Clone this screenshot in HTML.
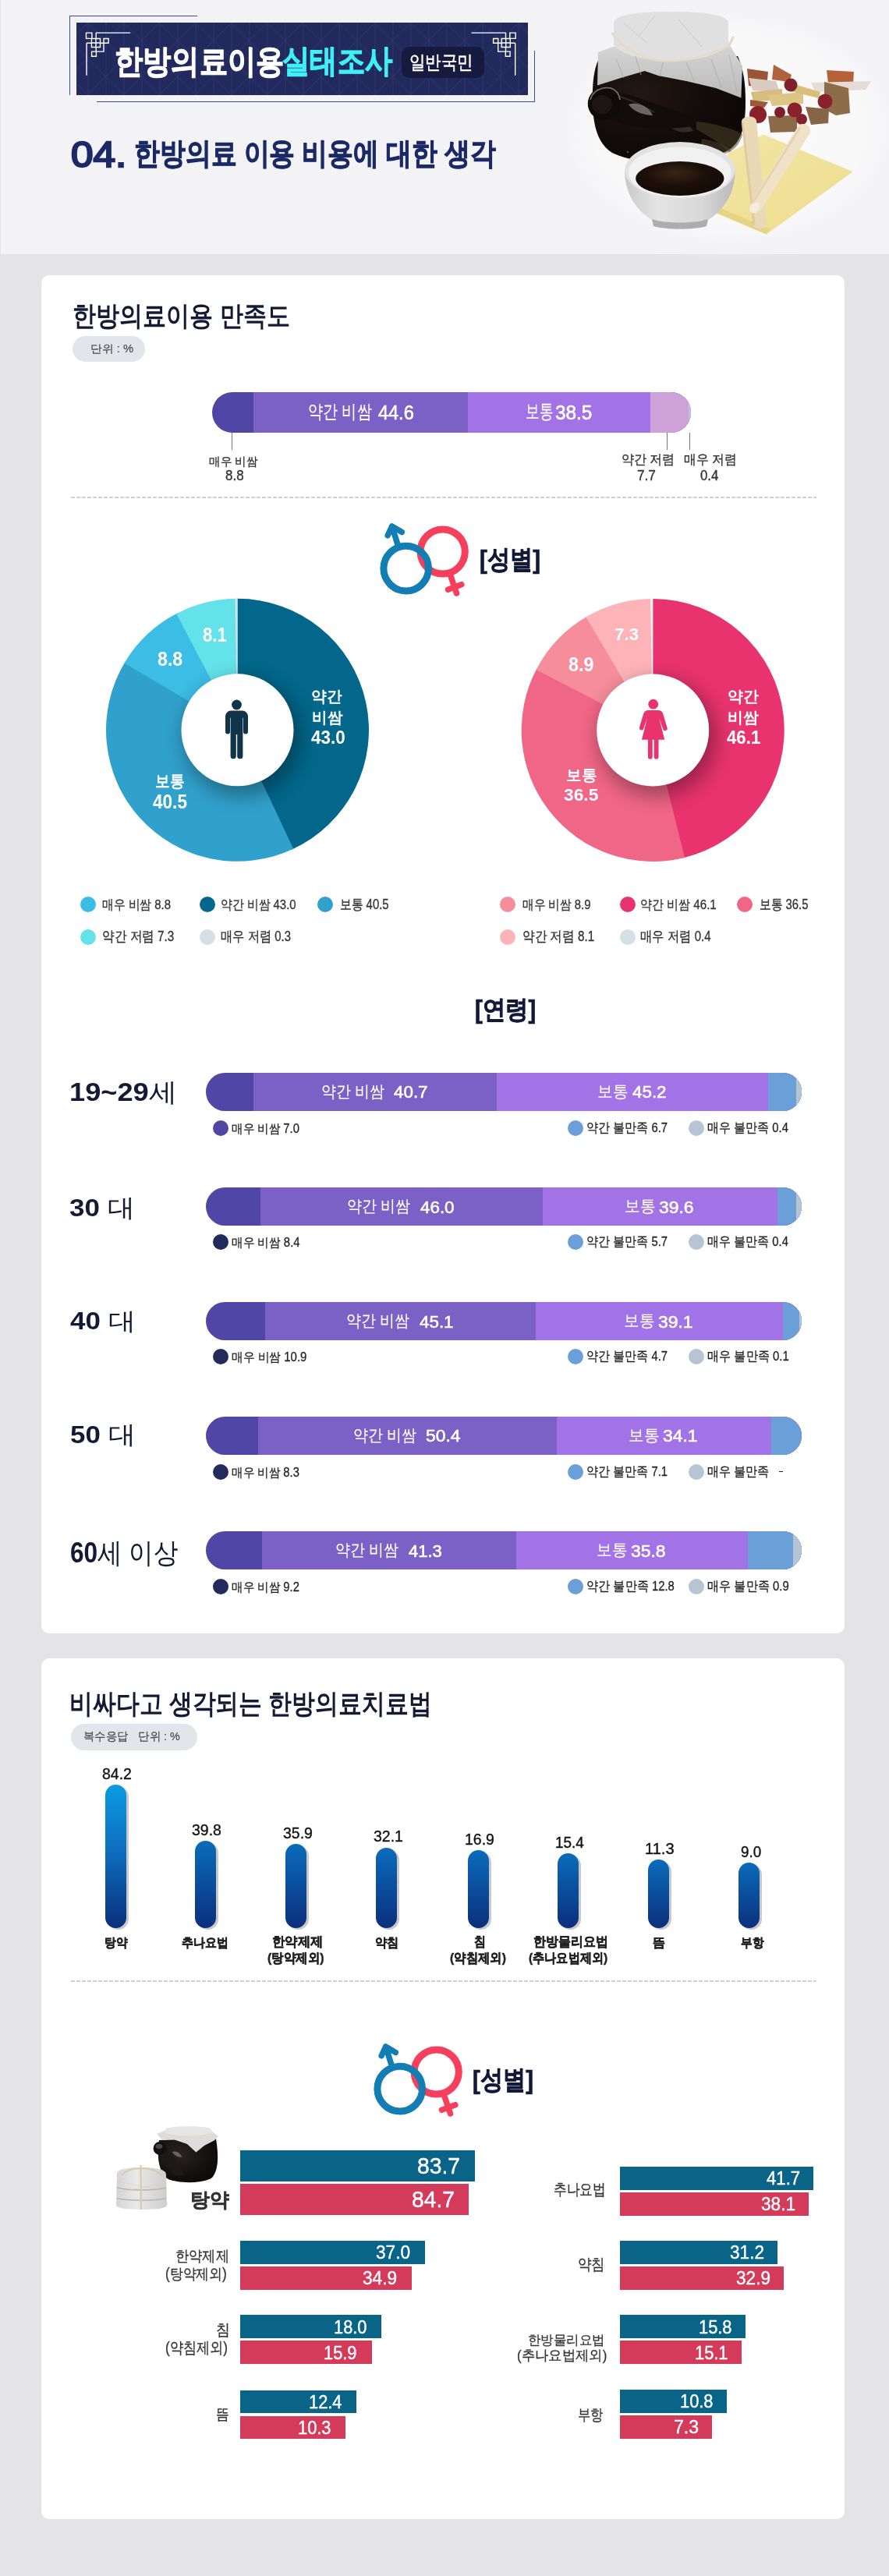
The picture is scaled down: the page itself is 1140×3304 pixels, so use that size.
<!DOCTYPE html><html><head><meta charset="utf-8"><style>
html,body{margin:0;padding:0;}
body{width:1140px;height:3304px;position:relative;overflow:hidden;background:#e4e4e7;font-family:"Liberation Sans",sans-serif;}
</style></head><body>
<div style="position:absolute;left:1px;top:0;width:1139px;height:326px;background:#f3f3f6"></div><div style="position:absolute;left:53px;top:353px;width:1030px;height:1742px;background:#fff;border-radius:10px"></div><div style="position:absolute;left:53px;top:2127px;width:1030px;height:1104px;background:#fff;border-radius:10px"></div><div style="position:absolute;left:89.00px;top:20.00px;width:164.00px;height:1.20px;background:#3d4d8f;"></div><div style="position:absolute;left:88.50px;top:20.00px;width:1.20px;height:101.50px;background:#3d4d8f;"></div><div style="position:absolute;left:124.00px;top:129.50px;width:562.00px;height:1.20px;background:#3d4d8f;"></div><div style="position:absolute;left:684.80px;top:64.50px;width:1.20px;height:66.20px;background:#3d4d8f;"></div><svg style="position:absolute;left:97.5px;top:28.7px" width="579.5" height="93" viewBox="0 0 579.5 93">
<defs><pattern id="lat" x="37.5" y="23.3" width="46" height="46" patternUnits="userSpaceOnUse">
<path d="M0.5 0V46M23.5 0V46M0 0L46 46M46 0L0 46" stroke="#333d75" stroke-width="1" fill="none"/></pattern></defs>
<rect width="579.5" height="93" fill="#222a5d"/><rect width="579.5" height="93" fill="url(#lat)" opacity="0.7"/>
</svg><svg style="position:absolute;left:0;top:0;overflow:visible" width="1" height="1"><g transform="translate(-0.29999999999999716,0)"><path d="M123.2 42.1H167.5 M123.5 42.1V49.5 M110.8 42.1H118.2V49.4H110.8Z M111.3 55.2V96.7 M111.3 55.2H117.7 M117.7 49.5H128.8V60.5H117.7Z M123.3 49.5V60.5 M117.7 55H128.8 M133.3 49.5H139.4V55.2H133.3Z M128.8 55.2H133.3V66.1H123.5 M117.9 66.1H123.7V72.2H117.9Z M123.5 60.5V66.1" stroke="#fff" stroke-width="1.4" fill="none"/></g></svg><svg style="position:absolute;left:0;top:0;overflow:visible" width="1" height="1"><g transform="translate(772.0,0) scale(-1,1)"><path d="M123.2 42.1H167.5 M123.5 42.1V49.5 M110.8 42.1H118.2V49.4H110.8Z M111.3 55.2V96.7 M111.3 55.2H117.7 M117.7 49.5H128.8V60.5H117.7Z M123.3 49.5V60.5 M117.7 55H128.8 M133.3 49.5H139.4V55.2H133.3Z M128.8 55.2H133.3V66.1H123.5 M117.9 66.1H123.7V72.2H117.9Z M123.5 60.5V66.1" stroke="#fff" stroke-width="1.4" fill="none"/></g></svg><div style="position:absolute;left:515px;top:60.3px;width:106.4px;height:39.5px;background:#161a3c;border-radius:10px"></div><svg style="position:absolute;left:0;top:0;overflow:visible" width="1" height="1">
<defs>
<radialGradient id="potg" cx="0.3" cy="0.35" r="0.8"><stop offset="0" stop-color="#231815"/><stop offset="0.55" stop-color="#120c0a"/><stop offset="1" stop-color="#0b0807"/></radialGradient>
<linearGradient id="papg" x1="0" y1="0" x2="0" y2="1"><stop offset="0" stop-color="#d6d6d6"/><stop offset="1" stop-color="#bababa"/></linearGradient>
<linearGradient id="bowlg" x1="0" y1="0" x2="1" y2="0"><stop offset="0" stop-color="#c9c9c9"/><stop offset="0.3" stop-color="#e4e4e4"/><stop offset="0.7" stop-color="#d8d8d8"/><stop offset="1" stop-color="#b9b9b9"/></linearGradient>
<radialGradient id="liqg" cx="0.45" cy="0.35" r="0.7"><stop offset="0" stop-color="#3a2414"/><stop offset="0.5" stop-color="#1c0f09"/><stop offset="1" stop-color="#120906"/></radialGradient>
<linearGradient id="clothg" x1="0" y1="0" x2="1" y2="1"><stop offset="0" stop-color="#f3e6a6"/><stop offset="1" stop-color="#eedc8c"/></linearGradient>
</defs>
<radialGradient id="glow" cx="0.5" cy="0.5" r="0.5"><stop offset="0" stop-color="#fbfbfb"/><stop offset="0.7" stop-color="#f8f8f9"/><stop offset="1" stop-color="#f3f3f6" stop-opacity="0"/></radialGradient>
<ellipse cx="935" cy="165" rx="250" ry="175" fill="url(#glow)"/>
<!-- herbs -->
<g>
<path d="M958 88L985 92L983 113L960 110Z" fill="#9c5436"/>
<path d="M992 83L1015 96L1012 105L990 102Z" fill="#b0613d"/>
<path d="M1060 90L1095 92L1094 108L1062 107Z" fill="#b5623b"/>
<path d="M1040 106L1117 104L1110 115L1045 118Z" fill="#e6dcd6"/>
<path d="M960 100L995 104L1000 118L965 116Z" fill="#d9cbc3"/>
<path d="M963 118L1003 114L1003 128L966 130Z" fill="#d6bd7c"/>
<path d="M985 122L1030 118L1030 133L990 136Z" fill="#dcc585"/>
<path d="M1005 104L1052 118L1050 126L1010 116Z" fill="#d8bf7a"/>
<path d="M1057 105L1088 113L1090 145L1072 148L1057 140Z" fill="#8d6c4a"/>
<path d="M1033 137L1063 140L1062 158L1040 160Z" fill="#856546"/>
<path d="M985 149L1022 148L1022 169L988 170Z" fill="#8a6a48"/>
<path d="M962 128L985 131L980 138L962 136Z" fill="#9a5a3a"/>
<circle cx="1014" cy="109" r="8.5" fill="#80202a"/>
<circle cx="1058" cy="130" r="9.5" fill="#86222b"/>
<circle cx="972" cy="147" r="11" fill="#8a2029"/>
<circle cx="1019" cy="141" r="9.5" fill="#8a222c"/>
<circle cx="1000" cy="144" r="7" fill="#7e1e28"/>
<circle cx="1028" cy="153" r="7" fill="#84222b"/>
</g>
<!-- pot body -->
<path d="M770 72C762 84 759 105 760 135C761 165 768 185 785 196C805 206 830 207 850 207C880 207 915 204 935 192C952 180 956 160 956 130C956 105 953 88 946 72Z" fill="url(#potg)"/>
<path d="M893 156C915 158 940 165 952 172C950 182 944 190 935 195C925 185 905 172 893 166Z" fill="#4e3f28" opacity="0.55"/>
<path d="M900 178C915 180 930 186 938 194C925 200 910 202 898 200Z" fill="#5a4a30" opacity="0.45"/>
<path d="M851 152C865 150 882 156 889 168C875 172 858 168 851 152Z" fill="#6c6664" opacity="0.35"/>
<!-- spout -->
<path d="M785 118C805 118 830 130 888 150L889 162C850 168 805 165 780 152Z" fill="#120d0b"/>
<path d="M794.5 124C810 128 825 136 839 144" stroke="#3a3432" stroke-width="2" fill="none" opacity="0.7"/>
<ellipse cx="774.7" cy="133" rx="21" ry="21" fill="#0f0b09"/>
<path d="M757 128C760 116 772 111 783 113C790 115 794 121 795 128" stroke="#8e8a88" stroke-width="1.6" fill="none" opacity="0.85"/>
<ellipse cx="772" cy="134" rx="13" ry="12" fill="#1c1614"/>
<path d="M806 134C816 130 832 136 837 148C826 148 812 143 806 134Z" fill="#8a8482" opacity="0.75"/>
<circle cx="805" cy="195" r="1.2" fill="#555"/>
<!-- paper drape -->
<path d="M786 60L767 67L766 109.5L796 100L826.7 91L844 97L880 104L918 113L950.4 125.6L952 84.7L934 55Z" fill="url(#papg)"/>
<path d="M787 30C787 18 820 15 860 15C900 15 934 18 934 30L934 58C920 72 890 78 860 78C830 78 800 72 787 58Z" fill="#e0e0e0"/>
<path d="M790 75L800 100M815 72L822 96M850 80L846 98M880 80L890 104M912 76L925 112M935 70L945 118" stroke="#a9a9a9" stroke-width="1.2" fill="none" opacity="0.6"/>
<path d="M800 30L830 55M870 25L900 60M840 20L820 45" stroke="#c9c9c9" stroke-width="1.2" fill="none" opacity="0.6"/>
<path d="M784.6 42C800 65 830 78 856 78C890 78 925 65 935.5 57L940.5 47" stroke="#e5dcc8" stroke-width="3.2" fill="none"/>
<!-- cloth -->
<path d="M979 172.5L1093.6 220.3L982.7 300.6L915.8 272L933 197Z" fill="url(#clothg)"/>
<path d="M915.8 272L982.7 300.6L988 294L922 266Z" fill="#e3d07e" opacity="0.8"/>
<!-- sticks -->
<path d="M951 156C951 148 969 147 970 155L983 286C983 295 966 296 966 288Z" fill="#ead9b6"/>
<path d="M952 157L967 289" stroke="#d5c197" stroke-width="3" fill="none" opacity="0.6"/>
<path d="M1024 161C1030 156 1041 161 1039 170L976 269C971 276 959 272 961 264Z" fill="#efe2c6"/>
<path d="M1026 164L964 262" stroke="#dcc9a4" stroke-width="2.5" fill="none" opacity="0.6"/>
<ellipse cx="967.5" cy="266.5" rx="7.5" ry="5.5" fill="#f6ede0" transform="rotate(-57 967.5 266.5)"/>
<!-- bowl -->
<path d="M801 218C801 248 816 270 836 282C852 288 892 288 908 282C928 270 942.5 248 942.5 218Z" fill="url(#bowlg)"/>
<path d="M836 281C852 287 892 287 908 281L906 290C890 295 854 295 838 290Z" fill="#adadad"/>
<ellipse cx="871.8" cy="218.4" rx="70.7" ry="36.5" fill="#e2e2e2"/>
<ellipse cx="871.8" cy="221" rx="66" ry="32.5" fill="#f1f1f1"/>
<ellipse cx="871.8" cy="229" rx="56.6" ry="22" fill="url(#liqg)"/>
</svg>
<div style="position:absolute;left:93.4px;top:431.3px;width:92.8px;height:33.1px;background:#e2e6ea;border-radius:17px"></div><div style="position:absolute;left:271.6px;top:503px;width:614.4px;height:52px;border-radius:26px;overflow:hidden;"><div style="position:absolute;left:0.00px;top:0;width:614.40px;height:100%;background:#5046a6"></div><div style="position:absolute;left:53.90px;top:0;width:560.50px;height:100%;background:#7b61c6"></div><div style="position:absolute;left:328.40px;top:0;width:286.00px;height:100%;background:#a273e6"></div><div style="position:absolute;left:562.40px;top:0;width:52.00px;height:100%;background:#cea2d9"></div><div style="position:absolute;left:611.40px;top:0;width:3.00px;height:100%;background:#b6c9d6"></div></div><div style="position:absolute;left:297.00px;top:555.00px;width:1.00px;height:22.00px;background:#777;"></div><div style="position:absolute;left:855.00px;top:555.00px;width:1.00px;height:22.00px;background:#777;"></div><div style="position:absolute;left:883.90px;top:555.00px;width:1.00px;height:22.00px;background:#777;"></div><div style="position:absolute;left:91px;top:637px;width:956px;height:2px;background:repeating-linear-gradient(90deg,#d0d0d0 0 5px,transparent 5px 7px)"></div><svg style="position:absolute;left:470px;top:655px" width="150" height="125" viewBox="470 655 150 125">
<g fill="none" stroke-linecap="round" stroke-linejoin="round">
<circle cx="567.7" cy="707.5" r="28.6" stroke="#f53f5c" stroke-width="9"/>
<path d="M577.5 737.5L585.5 761M574.5 756.2L591.8 749.7" stroke="#f53f5c" stroke-width="7.5"/>
<circle cx="520.7" cy="729.1" r="28.8" stroke="#137eb3" stroke-width="9"/>
<path d="M510.5 700L502.6 675M515.3 682.5L502.6 675L497.2 686.8" stroke="#137eb3" stroke-width="7.5"/>
</g></svg><svg style="position:absolute;left:0;top:0;overflow:visible" width="1" height="1">
<defs><filter id="shm" x="-50%" y="-50%" width="200%" height="200%"><feGaussianBlur stdDeviation="12"/></filter>
<clipPath id="clm"><circle cx="304.5" cy="936.3" r="168.5"/></clipPath></defs>
<path d="M304.5 936.3L304.50 767.80A168.5 168.5 0 0 1 374.11 1089.75Z" fill="#02678b"/><path d="M304.5 936.3L376.24 1088.76A168.5 168.5 0 0 1 160.68 848.51Z" fill="#30a1cc"/><path d="M304.5 936.3L159.46 850.53A168.5 168.5 0 0 1 228.21 786.06Z" fill="#3bbde5"/><path d="M304.5 936.3L226.12 787.14A168.5 168.5 0 0 1 303.68 767.80Z" fill="#63e2e9"/><path d="M304.5 936.3L301.32 767.83A168.5 168.5 0 0 1 304.50 767.80Z" fill="#d3e0e5"/>
<g clip-path="url(#clm)"><circle cx="310.5" cy="946.3" r="76" fill="#000" opacity="0.32" filter="url(#shm)"/></g>
<circle cx="304.5" cy="936.3" r="72" fill="#fff"/>
</svg><svg style="position:absolute;left:0;top:0;overflow:visible" width="1" height="1">
<defs><filter id="shf" x="-50%" y="-50%" width="200%" height="200%"><feGaussianBlur stdDeviation="12"/></filter>
<clipPath id="clf"><circle cx="837.2" cy="936.5" r="168.5"/></clipPath></defs>
<path d="M837.2 936.5L837.20 768.00A168.5 168.5 0 0 1 875.79 1100.52Z" fill="#e8336f"/><path d="M837.2 936.5L878.08 1099.97A168.5 168.5 0 0 1 688.64 856.98Z" fill="#f06686"/><path d="M837.2 936.5L687.55 859.06A168.5 168.5 0 0 1 753.46 790.28Z" fill="#f58d9b"/><path d="M837.2 936.5L751.43 791.46A168.5 168.5 0 0 1 836.38 768.00Z" fill="#fdb4b8"/><path d="M837.2 936.5L834.02 768.03A168.5 168.5 0 0 1 837.20 768.00Z" fill="#f4f4f4"/>
<g clip-path="url(#clf)"><circle cx="843.2" cy="946.5" r="76" fill="#000" opacity="0.32" filter="url(#shf)"/></g>
<circle cx="837.2" cy="936.5" r="72" fill="#fff"/>
</svg><svg style="position:absolute;left:0;top:0;overflow:visible" width="1" height="1"><g fill="#12344a">
<circle cx="303.5" cy="904" r="6.4"/>
<path d="M296 911.6H311A7 7 0 0 1 318 918.6V938.6A3 3 0 0 1 312 938.6V920.8H311.4V969.7A3.6 3.6 0 0 1 304.2 969.7V942H302.8V969.7A3.6 3.6 0 0 1 295.6 969.7V920.8H295V938.6A3 3 0 0 1 289 938.6V918.6A7 7 0 0 1 296 911.6Z"/>
</g></svg><svg style="position:absolute;left:0;top:0;overflow:visible" width="1" height="1"><g fill="#e8336f">
<circle cx="837.7" cy="903.2" r="6.4"/>
<path d="M831.5 911H844A6.5 6.5 0 0 1 850.2 915.5L855.6 933.6A2.8 2.8 0 0 1 850.2 935.2L845.2 920.5L852.2 948.7H844.5V970.7A2.9 2.9 0 0 1 838.7 970.7V948.7H836.7V970.7A2.9 2.9 0 0 1 830.9 970.7V948.7H823L830 920.5L825 935.2A2.8 2.8 0 0 1 819.8 933.6L825.2 915.5A6.5 6.5 0 0 1 831.5 911Z"/>
</g></svg><div style="position:absolute;left:103.20px;top:1149.90px;width:20px;height:20px;border-radius:50%;background:#3bbde5"></div><div style="position:absolute;left:256.20px;top:1149.90px;width:20px;height:20px;border-radius:50%;background:#02678b"></div><div style="position:absolute;left:406.50px;top:1149.90px;width:20px;height:20px;border-radius:50%;background:#30a1cc"></div><div style="position:absolute;left:103.20px;top:1191.80px;width:20px;height:20px;border-radius:50%;background:#63e2e9"></div><div style="position:absolute;left:256.20px;top:1191.80px;width:20px;height:20px;border-radius:50%;background:#d3e0e5"></div><div style="position:absolute;left:641.40px;top:1149.90px;width:20px;height:20px;border-radius:50%;background:#f58d9b"></div><div style="position:absolute;left:794.80px;top:1149.90px;width:20px;height:20px;border-radius:50%;background:#e8336f"></div><div style="position:absolute;left:945.00px;top:1149.90px;width:20px;height:20px;border-radius:50%;background:#f06686"></div><div style="position:absolute;left:641.40px;top:1191.80px;width:20px;height:20px;border-radius:50%;background:#fdb4b8"></div><div style="position:absolute;left:794.80px;top:1191.80px;width:20px;height:20px;border-radius:50%;background:#d3e0e5"></div><div style="position:absolute;left:264px;top:1375.5px;width:764px;height:49px;border-radius:24.5px;overflow:hidden;"><div style="position:absolute;left:0.00px;top:0;width:764.00px;height:100%;background:#5046a6"></div><div style="position:absolute;left:60.70px;top:0;width:703.30px;height:100%;background:#7b61c6"></div><div style="position:absolute;left:373.00px;top:0;width:391.00px;height:100%;background:#a273e6"></div><div style="position:absolute;left:720.80px;top:0;width:43.20px;height:100%;background:#6a9fd8"></div><div style="position:absolute;left:756.80px;top:0;width:7.20px;height:100%;background:#b5c5d3"></div></div><div style="position:absolute;left:273.20px;top:1436.80px;width:20px;height:20px;border-radius:50%;background:#5046a6"></div><div style="position:absolute;left:728.10px;top:1436.80px;width:20px;height:20px;border-radius:50%;background:#6a9fd8"></div><div style="position:absolute;left:882.60px;top:1436.80px;width:20px;height:20px;border-radius:50%;background:#b5c5d3"></div><div style="position:absolute;left:264px;top:1523px;width:764px;height:49px;border-radius:24.5px;overflow:hidden;"><div style="position:absolute;left:0.00px;top:0;width:764.00px;height:100%;background:#5046a6"></div><div style="position:absolute;left:69.80px;top:0;width:694.20px;height:100%;background:#7b61c6"></div><div style="position:absolute;left:431.50px;top:0;width:332.50px;height:100%;background:#a273e6"></div><div style="position:absolute;left:732.80px;top:0;width:31.20px;height:100%;background:#6a9fd8"></div><div style="position:absolute;left:756.80px;top:0;width:7.20px;height:100%;background:#b5c5d3"></div></div><div style="position:absolute;left:273.20px;top:1583.10px;width:20px;height:20px;border-radius:50%;background:#232a5c"></div><div style="position:absolute;left:728.10px;top:1583.10px;width:20px;height:20px;border-radius:50%;background:#6a9fd8"></div><div style="position:absolute;left:882.60px;top:1583.10px;width:20px;height:20px;border-radius:50%;background:#b5c5d3"></div><div style="position:absolute;left:264px;top:1670px;width:764px;height:49px;border-radius:24.5px;overflow:hidden;"><div style="position:absolute;left:0.00px;top:0;width:764.00px;height:100%;background:#5046a6"></div><div style="position:absolute;left:76.30px;top:0;width:687.70px;height:100%;background:#7b61c6"></div><div style="position:absolute;left:422.50px;top:0;width:341.50px;height:100%;background:#a273e6"></div><div style="position:absolute;left:740.00px;top:0;width:24.00px;height:100%;background:#6a9fd8"></div><div style="position:absolute;left:760.60px;top:0;width:3.40px;height:100%;background:#b5c5d3"></div></div><div style="position:absolute;left:273.20px;top:1730.00px;width:20px;height:20px;border-radius:50%;background:#232a5c"></div><div style="position:absolute;left:728.10px;top:1730.00px;width:20px;height:20px;border-radius:50%;background:#6a9fd8"></div><div style="position:absolute;left:882.60px;top:1730.00px;width:20px;height:20px;border-radius:50%;background:#b5c5d3"></div><div style="position:absolute;left:264px;top:1816.5px;width:764px;height:49px;border-radius:24.5px;overflow:hidden;"><div style="position:absolute;left:0.00px;top:0;width:764.00px;height:100%;background:#5046a6"></div><div style="position:absolute;left:66.90px;top:0;width:697.10px;height:100%;background:#7b61c6"></div><div style="position:absolute;left:449.50px;top:0;width:314.50px;height:100%;background:#a273e6"></div><div style="position:absolute;left:724.80px;top:0;width:39.20px;height:100%;background:#6a9fd8"></div></div><div style="position:absolute;left:273.20px;top:1877.50px;width:20px;height:20px;border-radius:50%;background:#232a5c"></div><div style="position:absolute;left:728.10px;top:1877.50px;width:20px;height:20px;border-radius:50%;background:#6a9fd8"></div><div style="position:absolute;left:882.60px;top:1877.50px;width:20px;height:20px;border-radius:50%;background:#b5c5d3"></div><div style="position:absolute;left:999.00px;top:1886.90px;width:5.40px;height:1.20px;background:#222;"></div><div style="position:absolute;left:264px;top:1964px;width:764px;height:49px;border-radius:24.5px;overflow:hidden;"><div style="position:absolute;left:0.00px;top:0;width:764.00px;height:100%;background:#5046a6"></div><div style="position:absolute;left:71.60px;top:0;width:692.40px;height:100%;background:#7b61c6"></div><div style="position:absolute;left:398.00px;top:0;width:366.00px;height:100%;background:#a273e6"></div><div style="position:absolute;left:694.50px;top:0;width:69.50px;height:100%;background:#6a9fd8"></div><div style="position:absolute;left:752.90px;top:0;width:11.10px;height:100%;background:#b5c5d3"></div></div><div style="position:absolute;left:273.20px;top:2025.20px;width:20px;height:20px;border-radius:50%;background:#232a5c"></div><div style="position:absolute;left:728.10px;top:2025.20px;width:20px;height:20px;border-radius:50%;background:#6a9fd8"></div><div style="position:absolute;left:882.60px;top:2025.20px;width:20px;height:20px;border-radius:50%;background:#b5c5d3"></div><div style="position:absolute;left:91px;top:2210.8px;width:161.5px;height:33.8px;background:#e2e6ea;border-radius:17px"></div><svg style="position:absolute;left:0;top:0;overflow:visible" width="1" height="1"><defs>
<linearGradient id="vg" x1="0" y1="0" x2="0" y2="1" gradientUnits="objectBoundingBox"><stop offset="0" stop-color="#0a9be0"/><stop offset="1" stop-color="#0b2f7c"/></linearGradient>
</defs></svg><div style="position:absolute;left:137.60px;top:2291px;width:27px;height:184.4000000000001px;border-radius:13.5px;background:#c9c9c9"></div><div style="position:absolute;left:134.60px;top:2289px;width:27px;height:184.4000000000001px;border-radius:13.5px;background:linear-gradient(180deg,#0a9be0 0px,#0d6fc0 83px,#0b2f7c 184px)"></div><div style="position:absolute;left:252.60px;top:2363.3px;width:27px;height:112.09999999999991px;border-radius:13.5px;background:#c9c9c9"></div><div style="position:absolute;left:249.60px;top:2361.3px;width:27px;height:112.09999999999991px;border-radius:13.5px;background:linear-gradient(180deg,#0a6cbb 0px,#0b2f7c 112px)"></div><div style="position:absolute;left:368.70px;top:2367px;width:27px;height:108.40000000000009px;border-radius:13.5px;background:#c9c9c9"></div><div style="position:absolute;left:365.70px;top:2365px;width:27px;height:108.40000000000009px;border-radius:13.5px;background:linear-gradient(180deg,#0a6cbb 0px,#0b2f7c 108px)"></div><div style="position:absolute;left:484.80px;top:2371.5px;width:27px;height:103.90000000000009px;border-radius:13.5px;background:#c9c9c9"></div><div style="position:absolute;left:481.80px;top:2369.5px;width:27px;height:103.90000000000009px;border-radius:13.5px;background:linear-gradient(180deg,#0a6cbb 0px,#0b2f7c 104px)"></div><div style="position:absolute;left:602.50px;top:2375px;width:27px;height:100.40000000000009px;border-radius:13.5px;background:#c9c9c9"></div><div style="position:absolute;left:599.50px;top:2373px;width:27px;height:100.40000000000009px;border-radius:13.5px;background:linear-gradient(180deg,#0a6cbb 0px,#0b2f7c 100px)"></div><div style="position:absolute;left:717.90px;top:2379px;width:27px;height:96.40000000000009px;border-radius:13.5px;background:#c9c9c9"></div><div style="position:absolute;left:714.90px;top:2377px;width:27px;height:96.40000000000009px;border-radius:13.5px;background:linear-gradient(180deg,#0a6cbb 0px,#0b2f7c 96px)"></div><div style="position:absolute;left:833.60px;top:2387.3px;width:27px;height:88.09999999999991px;border-radius:13.5px;background:#c9c9c9"></div><div style="position:absolute;left:830.60px;top:2385.3px;width:27px;height:88.09999999999991px;border-radius:13.5px;background:linear-gradient(180deg,#0a6cbb 0px,#0b2f7c 88px)"></div><div style="position:absolute;left:950.00px;top:2391.4px;width:27px;height:84.0px;border-radius:13.5px;background:#c9c9c9"></div><div style="position:absolute;left:947.00px;top:2389.4px;width:27px;height:84.0px;border-radius:13.5px;background:linear-gradient(180deg,#0a6cbb 0px,#0b2f7c 84px)"></div><div style="position:absolute;left:91px;top:2540px;width:956px;height:2px;background:repeating-linear-gradient(90deg,#d0d0d0 0 5px,transparent 5px 7px)"></div><svg style="position:absolute;left:462px;top:2605px" width="150" height="125" viewBox="470 655 150 125">
<g fill="none" stroke-linecap="round" stroke-linejoin="round">
<circle cx="567.7" cy="707.5" r="28.6" stroke="#f53f5c" stroke-width="9"/>
<path d="M577.5 737.5L585.5 761M574.5 756.2L591.8 749.7" stroke="#f53f5c" stroke-width="7.5"/>
<circle cx="520.7" cy="729.1" r="28.8" stroke="#137eb3" stroke-width="9"/>
<path d="M510.5 700L502.6 675M515.3 682.5L502.6 675L497.2 686.8" stroke="#137eb3" stroke-width="7.5"/>
</g></svg><svg style="position:absolute;left:0;top:0;overflow:visible" width="1" height="1">
<defs>
<linearGradient id="pk" x1="0" y1="0" x2="1" y2="0"><stop offset="0" stop-color="#d4d4d4"/><stop offset="0.4" stop-color="#e9e9e9"/><stop offset="1" stop-color="#cdcdcd"/></linearGradient>
<radialGradient id="pot2g" cx="0.35" cy="0.35" r="0.8"><stop offset="0" stop-color="#2a2422"/><stop offset="0.6" stop-color="#141110"/><stop offset="1" stop-color="#0b0909"/></radialGradient>
</defs>
<!-- pot -->
<path d="M204 2745C201 2765 203 2785 214 2794C226 2801 262 2801 272 2793C281 2783 280 2762 277 2743Z" fill="url(#pot2g)"/>
<path d="M208 2752C220 2760 232 2775 236 2790L224 2790C214 2780 206 2768 204 2760Z" fill="#1d1918"/>
<ellipse cx="205" cy="2755.4" rx="8.4" ry="8.5" fill="#121010"/>
<ellipse cx="204" cy="2753" rx="4.5" ry="3" fill="#5a5554" opacity="0.8"/>
<path d="M221 2760C226 2758 232 2762 233 2767C228 2767 223 2764 221 2760Z" fill="#7a7574" opacity="0.8"/>
<!-- paper -->
<path d="M201 2737L211 2733L271 2733L280 2740L275 2745.3L262 2752L251.4 2760.5L240 2750L221 2743.6L208 2745Z" fill="#dcdcdc"/>
<path d="M212 2731C214 2726 268 2726 271 2731L271 2739C255 2742 228 2742 212 2739Z" fill="#e6e6e6"/>
<path d="M211.7 2737C228 2742 255 2742 270.8 2737" stroke="#e3dac6" stroke-width="2.2" fill="none"/>
<!-- packages -->
<path d="M150 2788C150 2781 168 2780 182 2780C198 2780 213 2782 213 2789L214 2828C214 2833 198 2834 182 2834C166 2834 149 2833 149 2828Z" fill="url(#pk)"/>
<path d="M150 2806C166 2810 198 2810 213 2806" stroke="#b5b5b5" stroke-width="1.4" fill="none"/>
<path d="M150 2819.5C166 2823 198 2823 213 2819.5" stroke="#b5b5b5" stroke-width="1.4" fill="none"/>
<path d="M180.5 2777L181 2834" stroke="#d9ccaa" stroke-width="2.2" fill="none"/>
<path d="M156 2790C165 2778 196 2778 207 2790" stroke="#d9ccaa" stroke-width="2" fill="none"/>
<path d="M150 2798L214 2810M150 2812L214 2800" stroke="#d9ccaa" stroke-width="1" fill="none" opacity="0.5"/>
</svg>
<div style="position:absolute;left:308.40px;top:2758.20px;width:300.40px;height:39.80px;background:#0a6488;"></div><div style="position:absolute;left:308.40px;top:2801.20px;width:292.60px;height:39.80px;background:#d43b5b;"></div><div style="position:absolute;left:308.40px;top:2874.00px;width:236.70px;height:29.80px;background:#0a6488;"></div><div style="position:absolute;left:308.40px;top:2907.00px;width:219.30px;height:29.80px;background:#d43b5b;"></div><div style="position:absolute;left:308.40px;top:2969.30px;width:180.80px;height:29.80px;background:#0a6488;"></div><div style="position:absolute;left:308.40px;top:3002.30px;width:168.20px;height:29.80px;background:#d43b5b;"></div><div style="position:absolute;left:308.40px;top:3065.60px;width:148.90px;height:29.80px;background:#0a6488;"></div><div style="position:absolute;left:308.40px;top:3098.60px;width:134.50px;height:29.80px;background:#d43b5b;"></div><div style="position:absolute;left:795.30px;top:2779.00px;width:248.20px;height:29.80px;background:#0a6488;"></div><div style="position:absolute;left:795.30px;top:2812.00px;width:242.10px;height:29.80px;background:#d43b5b;"></div><div style="position:absolute;left:795.30px;top:2874.00px;width:201.90px;height:29.80px;background:#0a6488;"></div><div style="position:absolute;left:795.30px;top:2907.00px;width:210.00px;height:29.80px;background:#d43b5b;"></div><div style="position:absolute;left:795.30px;top:2969.20px;width:160.60px;height:29.80px;background:#0a6488;"></div><div style="position:absolute;left:795.30px;top:3002.20px;width:155.30px;height:29.80px;background:#d43b5b;"></div><div style="position:absolute;left:795.30px;top:3064.80px;width:136.30px;height:29.80px;background:#0a6488;"></div><div style="position:absolute;left:795.30px;top:3097.80px;width:118.10px;height:29.80px;background:#d43b5b;"></div>
<div style="position:absolute;left:147.40px;top:58.02px;font-size:41.86px;line-height:1;white-space:nowrap;font-weight:bold;color:#ffffff;transform-origin:0 0;transform:scaleX(0.8627);-webkit-text-stroke:1.11px #ffffff;">한방의료이용</div><div style="position:absolute;left:361.71px;top:58.45px;font-size:41.02px;line-height:1;white-space:nowrap;font-weight:bold;color:#3ff0f6;transform-origin:0 0;transform:scaleX(0.8615);-webkit-text-stroke:1.10px #3ff0f6;">실태조사</div><div style="position:absolute;left:525.10px;top:67.86px;font-size:23.97px;line-height:1;white-space:nowrap;font-weight:normal;color:#ffffff;transform-origin:0 0;transform:scaleX(0.8523);-webkit-text-stroke:0.47px #ffffff;">일반국민</div><div style="position:absolute;left:90.93px;top:175.94px;font-size:45.65px;line-height:1;white-space:nowrap;font-weight:normal;color:#1b2a66;transform-origin:0 0;transform:scaleX(1.1245);-webkit-text-stroke:2.29px #1b2a66;">04.</div><div style="position:absolute;left:172.06px;top:177.98px;font-size:38.77px;line-height:1;white-space:nowrap;font-weight:bold;color:#1b2a66;transform-origin:0 0;transform:scaleX(0.8429);-webkit-text-stroke:0.91px #1b2a66;">한방의료 이용 비용에 대한 생각</div><div style="position:absolute;left:92.87px;top:388.11px;font-size:34.65px;line-height:1;white-space:nowrap;font-weight:bold;color:#141a33;transform-origin:0 0;transform:scaleX(0.8587);">한방의료이용 만족도</div><div style="position:absolute;left:115.97px;top:441.43px;font-size:13.88px;line-height:1;white-space:nowrap;font-weight:normal;color:#4a4a4a;transform-origin:0 0;transform:scaleX(1.0601);-webkit-text-stroke:0.19px #4a4a4a;">단위 : %</div><div style="position:absolute;left:394.91px;top:515.86px;font-size:23.97px;line-height:1;white-space:nowrap;font-weight:normal;color:#fff;transform-origin:0 0;transform:scaleX(0.7946);-webkit-text-stroke:0.14px #fff;">약간 비쌈</div><div style="position:absolute;left:484.70px;top:516.05px;font-size:25.99px;line-height:1;white-space:nowrap;font-weight:normal;color:#fff;transform-origin:0 0;transform:scaleX(0.9033);-webkit-text-stroke:0.61px #fff;">44.6</div><div style="position:absolute;left:674.23px;top:514.84px;font-size:25.01px;line-height:1;white-space:nowrap;font-weight:normal;color:#fff;transform-origin:0 0;transform:scaleX(0.7006);-webkit-text-stroke:0.15px #fff;">보통</div><div style="position:absolute;left:711.85px;top:516.05px;font-size:25.99px;line-height:1;white-space:nowrap;font-weight:normal;color:#fff;transform-origin:0 0;transform:scaleX(0.9365);-webkit-text-stroke:0.61px #fff;">38.5</div><div style="position:absolute;left:268.12px;top:583.50px;font-size:15.14px;line-height:1;white-space:nowrap;font-weight:normal;color:#333;transform-origin:0 0;transform:scaleX(0.9680);-webkit-text-stroke:0.32px #333;">매우 비쌈</div><div style="position:absolute;left:288.92px;top:601.63px;font-size:17.90px;line-height:1;white-space:nowrap;font-weight:normal;color:#333;transform-origin:0 0;transform:scaleX(0.9467);-webkit-text-stroke:0.36px #333;">8.8</div><div style="position:absolute;left:796.50px;top:582.44px;font-size:16.63px;line-height:1;white-space:nowrap;font-weight:normal;color:#333;transform-origin:0 0;transform:scaleX(0.9427);-webkit-text-stroke:0.33px #333;">약간 저렴</div><div style="position:absolute;left:816.50px;top:601.95px;font-size:17.61px;line-height:1;white-space:nowrap;font-weight:normal;color:#333;transform-origin:0 0;transform:scaleX(0.9756);-webkit-text-stroke:0.36px #333;">7.7</div><div style="position:absolute;left:876.91px;top:582.44px;font-size:16.63px;line-height:1;white-space:nowrap;font-weight:normal;color:#333;transform-origin:0 0;transform:scaleX(0.9277);-webkit-text-stroke:0.33px #333;">매우 저렴</div><div style="position:absolute;left:897.80px;top:601.95px;font-size:17.61px;line-height:1;white-space:nowrap;font-weight:normal;color:#333;transform-origin:0 0;transform:scaleX(0.9512);-webkit-text-stroke:0.36px #333;">0.4</div><div style="position:absolute;left:614.56px;top:700.01px;font-size:34.14px;line-height:1;white-space:nowrap;font-weight:bold;color:#131a38;transform-origin:0 0;transform:scaleX(0.8607);-webkit-text-stroke:0.72px #131a38;">[성별]</div><div style="position:absolute;left:260.00px;top:801.69px;font-size:25.45px;line-height:1;white-space:nowrap;font-weight:bold;color:#fff;transform-origin:0 0;transform:scaleX(0.8693);">8.1</div><div style="position:absolute;left:201.85px;top:832.81px;font-size:25.16px;line-height:1;white-space:nowrap;font-weight:bold;color:#fff;transform-origin:0 0;transform:scaleX(0.9229);">8.8</div><div style="position:absolute;left:399.42px;top:883.00px;font-size:20.45px;line-height:1;white-space:nowrap;font-weight:bold;color:#fff;transform-origin:0 0;transform:scaleX(0.9824);">약간</div><div style="position:absolute;left:400.20px;top:909.58px;font-size:20.37px;line-height:1;white-space:nowrap;font-weight:bold;color:#fff;transform-origin:0 0;transform:scaleX(0.9768);">비쌈</div><div style="position:absolute;left:398.90px;top:934.48px;font-size:24.02px;line-height:1;white-space:nowrap;font-weight:bold;color:#fff;transform-origin:0 0;transform:scaleX(0.9336);">43.0</div><div style="position:absolute;left:198.96px;top:991.16px;font-size:21.21px;line-height:1;white-space:nowrap;font-weight:bold;color:#fff;transform-origin:0 0;transform:scaleX(0.8895);">보통</div><div style="position:absolute;left:196.20px;top:1015.99px;font-size:25.45px;line-height:1;white-space:nowrap;font-weight:bold;color:#fff;transform-origin:0 0;transform:scaleX(0.8878);">40.5</div><div style="position:absolute;left:932.60px;top:883.00px;font-size:20.45px;line-height:1;white-space:nowrap;font-weight:bold;color:#fff;transform-origin:0 0;transform:scaleX(0.9950);">약간</div><div style="position:absolute;left:933.46px;top:909.58px;font-size:20.37px;line-height:1;white-space:nowrap;font-weight:bold;color:#fff;transform-origin:0 0;transform:scaleX(0.9974);">비쌈</div><div style="position:absolute;left:932.10px;top:934.48px;font-size:24.02px;line-height:1;white-space:nowrap;font-weight:bold;color:#fff;transform-origin:0 0;transform:scaleX(0.9250);">46.1</div><div style="position:absolute;left:788.03px;top:803.06px;font-size:22.36px;line-height:1;white-space:nowrap;font-weight:bold;color:#fff;transform-origin:0 0;transform:scaleX(0.9994);">7.3</div><div style="position:absolute;left:728.94px;top:840.43px;font-size:24.87px;line-height:1;white-space:nowrap;font-weight:bold;color:#fff;transform-origin:0 0;transform:scaleX(0.9373);">8.9</div><div style="position:absolute;left:725.88px;top:983.55px;font-size:20.30px;line-height:1;white-space:nowrap;font-weight:bold;color:#fff;transform-origin:0 0;transform:scaleX(0.9788);">보통</div><div style="position:absolute;left:723.41px;top:1009.36px;font-size:22.36px;line-height:1;white-space:nowrap;font-weight:bold;color:#fff;transform-origin:0 0;transform:scaleX(1.0183);">36.5</div><div style="position:absolute;left:130.60px;top:1151.50px;font-size:17.19px;line-height:1;white-space:nowrap;font-weight:normal;color:#333;transform-origin:0 0;transform:scaleX(0.8678);-webkit-text-stroke:0.32px #333;">매우 비쌈 8.8</div><div style="position:absolute;left:282.80px;top:1151.50px;font-size:17.19px;line-height:1;white-space:nowrap;font-weight:normal;color:#333;transform-origin:0 0;transform:scaleX(0.8709);-webkit-text-stroke:0.32px #333;">약간 비쌈 43.0</div><div style="position:absolute;left:435.81px;top:1150.53px;font-size:18.20px;line-height:1;white-space:nowrap;font-weight:normal;color:#333;transform-origin:0 0;transform:scaleX(0.8190);-webkit-text-stroke:0.34px #333;">보통 40.5</div><div style="position:absolute;left:130.57px;top:1192.85px;font-size:17.54px;line-height:1;white-space:nowrap;font-weight:normal;color:#333;transform-origin:0 0;transform:scaleX(0.8692);-webkit-text-stroke:0.33px #333;">약간 저렴 7.3</div><div style="position:absolute;left:282.79px;top:1192.85px;font-size:17.54px;line-height:1;white-space:nowrap;font-weight:normal;color:#333;transform-origin:0 0;transform:scaleX(0.8484);-webkit-text-stroke:0.33px #333;">매우 저렴 0.3</div><div style="position:absolute;left:669.61px;top:1151.50px;font-size:17.19px;line-height:1;white-space:nowrap;font-weight:normal;color:#333;transform-origin:0 0;transform:scaleX(0.8619);-webkit-text-stroke:0.32px #333;">매우 비쌈 8.9</div><div style="position:absolute;left:820.79px;top:1151.50px;font-size:17.19px;line-height:1;white-space:nowrap;font-weight:normal;color:#333;transform-origin:0 0;transform:scaleX(0.8808);-webkit-text-stroke:0.32px #333;">약간 비쌈 46.1</div><div style="position:absolute;left:974.21px;top:1150.53px;font-size:18.20px;line-height:1;white-space:nowrap;font-weight:normal;color:#333;transform-origin:0 0;transform:scaleX(0.8163);-webkit-text-stroke:0.34px #333;">보통 36.5</div><div style="position:absolute;left:669.57px;top:1192.85px;font-size:17.54px;line-height:1;white-space:nowrap;font-weight:normal;color:#333;transform-origin:0 0;transform:scaleX(0.8682);-webkit-text-stroke:0.33px #333;">약간 저렴 8.1</div><div style="position:absolute;left:820.79px;top:1192.85px;font-size:17.54px;line-height:1;white-space:nowrap;font-weight:normal;color:#333;transform-origin:0 0;transform:scaleX(0.8532);-webkit-text-stroke:0.33px #333;">매우 저렴 0.4</div><div style="position:absolute;left:609.13px;top:1278.12px;font-size:33.17px;line-height:1;white-space:nowrap;font-weight:bold;color:#131a38;transform-origin:0 0;transform:scaleX(0.8892);-webkit-text-stroke:0.71px #131a38;">[연령]</div><div style="position:absolute;left:88.87px;top:1383.60px;font-size:32.99px;line-height:1;white-space:nowrap;font-weight:normal;color:#141a33;transform-origin:0 0;transform:scaleX(1.0980);"><b>19~29</b>세</div><div style="position:absolute;left:411.64px;top:1388.96px;font-size:21.21px;line-height:1;white-space:nowrap;font-weight:normal;color:#fff;transform-origin:0 0;transform:scaleX(0.9048);-webkit-text-stroke:0.14px #fff;">약간 비쌈</div><div style="position:absolute;left:505.15px;top:1389.24px;font-size:22.91px;line-height:1;white-space:nowrap;font-weight:normal;color:#fff;transform-origin:0 0;transform:scaleX(0.9772);-webkit-text-stroke:0.59px #fff;">40.7</div><div style="position:absolute;left:765.94px;top:1388.96px;font-size:21.21px;line-height:1;white-space:nowrap;font-weight:normal;color:#fff;transform-origin:0 0;transform:scaleX(0.9318);-webkit-text-stroke:0.14px #fff;">보통</div><div style="position:absolute;left:810.90px;top:1389.24px;font-size:22.91px;line-height:1;white-space:nowrap;font-weight:normal;color:#fff;transform-origin:0 0;transform:scaleX(0.9772);-webkit-text-stroke:0.59px #fff;">45.2</div><div style="position:absolute;left:296.97px;top:1439.00px;font-size:16.27px;line-height:1;white-space:nowrap;font-weight:normal;color:#222;transform-origin:0 0;transform:scaleX(0.9081);-webkit-text-stroke:0.28px #222;">매우 비쌈 7.0</div><div style="position:absolute;left:752.28px;top:1438.90px;font-size:16.68px;line-height:1;white-space:nowrap;font-weight:normal;color:#222;transform-origin:0 0;transform:scaleX(0.8853);-webkit-text-stroke:0.28px #222;">약간 불만족 6.7</div><div style="position:absolute;left:907.08px;top:1438.90px;font-size:16.68px;line-height:1;white-space:nowrap;font-weight:normal;color:#222;transform-origin:0 0;transform:scaleX(0.8842);-webkit-text-stroke:0.28px #222;">매우 불만족 0.4</div><div style="position:absolute;left:88.96px;top:1534.10px;font-size:31.90px;line-height:1;white-space:nowrap;font-weight:normal;color:#141a33;transform-origin:0 0;transform:scaleX(1.0957);"><b>30</b> 대</div><div style="position:absolute;left:445.44px;top:1536.46px;font-size:21.21px;line-height:1;white-space:nowrap;font-weight:normal;color:#fff;transform-origin:0 0;transform:scaleX(0.9048);-webkit-text-stroke:0.14px #fff;">약간 비쌈</div><div style="position:absolute;left:538.95px;top:1536.74px;font-size:22.91px;line-height:1;white-space:nowrap;font-weight:normal;color:#fff;transform-origin:0 0;transform:scaleX(0.9772);-webkit-text-stroke:0.59px #fff;">46.0</div><div style="position:absolute;left:801.19px;top:1536.46px;font-size:21.21px;line-height:1;white-space:nowrap;font-weight:normal;color:#fff;transform-origin:0 0;transform:scaleX(0.9318);-webkit-text-stroke:0.14px #fff;">보통</div><div style="position:absolute;left:845.17px;top:1536.74px;font-size:22.91px;line-height:1;white-space:nowrap;font-weight:normal;color:#fff;transform-origin:0 0;transform:scaleX(0.9995);-webkit-text-stroke:0.59px #fff;">39.6</div><div style="position:absolute;left:296.96px;top:1585.30px;font-size:16.27px;line-height:1;white-space:nowrap;font-weight:normal;color:#222;transform-origin:0 0;transform:scaleX(0.9154);-webkit-text-stroke:0.28px #222;">매우 비쌈 8.4</div><div style="position:absolute;left:752.28px;top:1585.20px;font-size:16.68px;line-height:1;white-space:nowrap;font-weight:normal;color:#222;transform-origin:0 0;transform:scaleX(0.8853);-webkit-text-stroke:0.28px #222;">약간 불만족 5.7</div><div style="position:absolute;left:907.08px;top:1585.20px;font-size:16.68px;line-height:1;white-space:nowrap;font-weight:normal;color:#222;transform-origin:0 0;transform:scaleX(0.8842);-webkit-text-stroke:0.28px #222;">매우 불만족 0.4</div><div style="position:absolute;left:90.00px;top:1680.46px;font-size:30.94px;line-height:1;white-space:nowrap;font-weight:normal;color:#141a33;transform-origin:0 0;transform:scaleX(1.1309);"><b>40</b> 대</div><div style="position:absolute;left:444.19px;top:1683.46px;font-size:21.21px;line-height:1;white-space:nowrap;font-weight:normal;color:#fff;transform-origin:0 0;transform:scaleX(0.9048);-webkit-text-stroke:0.14px #fff;">약간 비쌈</div><div style="position:absolute;left:537.70px;top:1683.74px;font-size:22.91px;line-height:1;white-space:nowrap;font-weight:normal;color:#fff;transform-origin:0 0;transform:scaleX(0.9772);-webkit-text-stroke:0.59px #fff;">45.1</div><div style="position:absolute;left:800.29px;top:1683.46px;font-size:21.21px;line-height:1;white-space:nowrap;font-weight:normal;color:#fff;transform-origin:0 0;transform:scaleX(0.9318);-webkit-text-stroke:0.14px #fff;">보통</div><div style="position:absolute;left:844.27px;top:1683.74px;font-size:22.91px;line-height:1;white-space:nowrap;font-weight:normal;color:#fff;transform-origin:0 0;transform:scaleX(0.9995);-webkit-text-stroke:0.59px #fff;">39.1</div><div style="position:absolute;left:296.95px;top:1732.20px;font-size:16.27px;line-height:1;white-space:nowrap;font-weight:normal;color:#222;transform-origin:0 0;transform:scaleX(0.9211);-webkit-text-stroke:0.28px #222;">매우 비쌈 10.9</div><div style="position:absolute;left:752.28px;top:1732.10px;font-size:16.68px;line-height:1;white-space:nowrap;font-weight:normal;color:#222;transform-origin:0 0;transform:scaleX(0.8853);-webkit-text-stroke:0.28px #222;">약간 불만족 4.7</div><div style="position:absolute;left:907.07px;top:1732.10px;font-size:16.68px;line-height:1;white-space:nowrap;font-weight:normal;color:#222;transform-origin:0 0;transform:scaleX(0.8914);-webkit-text-stroke:0.28px #222;">매우 불만족 0.1</div><div style="position:absolute;left:89.72px;top:1824.55px;font-size:31.83px;line-height:1;white-space:nowrap;font-weight:normal;color:#141a33;transform-origin:0 0;transform:scaleX(1.0981);"><b>50</b> 대</div><div style="position:absolute;left:452.99px;top:1829.96px;font-size:21.21px;line-height:1;white-space:nowrap;font-weight:normal;color:#fff;transform-origin:0 0;transform:scaleX(0.9048);-webkit-text-stroke:0.14px #fff;">약간 비쌈</div><div style="position:absolute;left:545.52px;top:1830.24px;font-size:22.91px;line-height:1;white-space:nowrap;font-weight:normal;color:#fff;transform-origin:0 0;transform:scaleX(0.9995);-webkit-text-stroke:0.59px #fff;">50.4</div><div style="position:absolute;left:806.19px;top:1829.96px;font-size:21.21px;line-height:1;white-space:nowrap;font-weight:normal;color:#fff;transform-origin:0 0;transform:scaleX(0.9318);-webkit-text-stroke:0.14px #fff;">보통</div><div style="position:absolute;left:850.17px;top:1830.24px;font-size:22.91px;line-height:1;white-space:nowrap;font-weight:normal;color:#fff;transform-origin:0 0;transform:scaleX(0.9995);-webkit-text-stroke:0.59px #fff;">34.1</div><div style="position:absolute;left:296.97px;top:1879.70px;font-size:16.27px;line-height:1;white-space:nowrap;font-weight:normal;color:#222;transform-origin:0 0;transform:scaleX(0.9081);-webkit-text-stroke:0.28px #222;">매우 비쌈 8.3</div><div style="position:absolute;left:752.28px;top:1879.60px;font-size:16.68px;line-height:1;white-space:nowrap;font-weight:normal;color:#222;transform-origin:0 0;transform:scaleX(0.8853);-webkit-text-stroke:0.28px #222;">약간 불만족 7.1</div><div style="position:absolute;left:907.08px;top:1879.60px;font-size:16.68px;line-height:1;white-space:nowrap;font-weight:normal;color:#222;transform-origin:0 0;transform:scaleX(0.8874);-webkit-text-stroke:0.28px #222;">매우 불만족</div><div style="position:absolute;left:89.94px;top:1974.04px;font-size:36.15px;line-height:1;white-space:nowrap;font-weight:normal;color:#141a33;transform-origin:0 0;transform:scaleX(0.8753);"><b>60</b>세 이상</div><div style="position:absolute;left:429.59px;top:1977.46px;font-size:21.21px;line-height:1;white-space:nowrap;font-weight:normal;color:#fff;transform-origin:0 0;transform:scaleX(0.9048);-webkit-text-stroke:0.14px #fff;">약간 비쌈</div><div style="position:absolute;left:524.00px;top:1977.74px;font-size:22.91px;line-height:1;white-space:nowrap;font-weight:normal;color:#fff;transform-origin:0 0;transform:scaleX(0.9569);-webkit-text-stroke:0.59px #fff;">41.3</div><div style="position:absolute;left:765.29px;top:1977.46px;font-size:21.21px;line-height:1;white-space:nowrap;font-weight:normal;color:#fff;transform-origin:0 0;transform:scaleX(0.9318);-webkit-text-stroke:0.14px #fff;">보통</div><div style="position:absolute;left:809.27px;top:1977.74px;font-size:22.91px;line-height:1;white-space:nowrap;font-weight:normal;color:#fff;transform-origin:0 0;transform:scaleX(0.9995);-webkit-text-stroke:0.59px #fff;">35.8</div><div style="position:absolute;left:296.97px;top:2027.40px;font-size:16.27px;line-height:1;white-space:nowrap;font-weight:normal;color:#222;transform-origin:0 0;transform:scaleX(0.9081);-webkit-text-stroke:0.28px #222;">매우 비쌈 9.2</div><div style="position:absolute;left:752.27px;top:2027.30px;font-size:16.68px;line-height:1;white-space:nowrap;font-weight:normal;color:#222;transform-origin:0 0;transform:scaleX(0.8905);-webkit-text-stroke:0.28px #222;">약간 불만족 12.8</div><div style="position:absolute;left:907.07px;top:2027.30px;font-size:16.68px;line-height:1;white-space:nowrap;font-weight:normal;color:#222;transform-origin:0 0;transform:scaleX(0.8914);-webkit-text-stroke:0.28px #222;">매우 불만족 0.9</div><div style="position:absolute;left:89.37px;top:2167.60px;font-size:34.87px;line-height:1;white-space:nowrap;font-weight:bold;color:#141a33;transform-origin:0 0;transform:scaleX(0.8532);">비싸다고 생각되는 한방의료치료법</div><div style="position:absolute;left:106.71px;top:2219.87px;font-size:14.64px;line-height:1;white-space:nowrap;font-weight:normal;color:#4a4a4a;transform-origin:0 0;transform:scaleX(0.9558);-webkit-text-stroke:0.19px #4a4a4a;">복수응답</div><div style="position:absolute;left:176.83px;top:2220.20px;font-size:14.77px;line-height:1;white-space:nowrap;font-weight:normal;color:#4a4a4a;transform-origin:0 0;transform:scaleX(0.9667);-webkit-text-stroke:0.20px #4a4a4a;">단위 : %</div><div style="position:absolute;left:131.47px;top:2265.72px;font-size:19.58px;line-height:1;white-space:nowrap;font-weight:normal;color:#111;transform-origin:0 0;transform:scaleX(0.9960);-webkit-text-stroke:0.36px #111;">84.2</div><div style="position:absolute;left:133.77px;top:2484.00px;font-size:15.85px;line-height:1;white-space:nowrap;font-weight:bold;color:#222;transform-origin:0 0;transform:scaleX(0.9147);-webkit-text-stroke:0.45px #222;">탕약</div><div style="position:absolute;left:246.47px;top:2338.02px;font-size:19.58px;line-height:1;white-space:nowrap;font-weight:normal;color:#111;transform-origin:0 0;transform:scaleX(0.9960);-webkit-text-stroke:0.36px #111;">39.8</div><div style="position:absolute;left:232.60px;top:2484.00px;font-size:15.85px;line-height:1;white-space:nowrap;font-weight:bold;color:#222;transform-origin:0 0;transform:scaleX(0.9359);-webkit-text-stroke:0.45px #222;">추나요법</div><div style="position:absolute;left:362.57px;top:2341.72px;font-size:19.58px;line-height:1;white-space:nowrap;font-weight:normal;color:#111;transform-origin:0 0;transform:scaleX(0.9960);-webkit-text-stroke:0.36px #111;">35.9</div><div style="position:absolute;left:349.43px;top:2483.24px;font-size:16.63px;line-height:1;white-space:nowrap;font-weight:bold;color:#222;transform-origin:0 0;transform:scaleX(0.9605);-webkit-text-stroke:0.48px #222;">한약제제</div><div style="position:absolute;left:343.07px;top:2502.60px;font-size:17.32px;line-height:1;white-space:nowrap;font-weight:bold;color:#222;transform-origin:0 0;transform:scaleX(0.9112);-webkit-text-stroke:0.46px #222;">(탕약제외)</div><div style="position:absolute;left:478.67px;top:2346.22px;font-size:19.58px;line-height:1;white-space:nowrap;font-weight:normal;color:#111;transform-origin:0 0;transform:scaleX(0.9960);-webkit-text-stroke:0.36px #111;">32.1</div><div style="position:absolute;left:481.19px;top:2484.00px;font-size:15.85px;line-height:1;white-space:nowrap;font-weight:bold;color:#222;transform-origin:0 0;transform:scaleX(0.9534);-webkit-text-stroke:0.45px #222;">약침</div><div style="position:absolute;left:596.37px;top:2349.72px;font-size:19.58px;line-height:1;white-space:nowrap;font-weight:normal;color:#111;transform-origin:0 0;transform:scaleX(0.9960);-webkit-text-stroke:0.36px #111;">16.9</div><div style="position:absolute;left:607.65px;top:2483.24px;font-size:16.63px;line-height:1;white-space:nowrap;font-weight:bold;color:#222;transform-origin:0 0;transform:scaleX(0.8854);-webkit-text-stroke:0.48px #222;">침</div><div style="position:absolute;left:577.12px;top:2502.60px;font-size:17.32px;line-height:1;white-space:nowrap;font-weight:bold;color:#222;transform-origin:0 0;transform:scaleX(0.9049);-webkit-text-stroke:0.46px #222;">(약침제외)</div><div style="position:absolute;left:711.79px;top:2353.72px;font-size:19.58px;line-height:1;white-space:nowrap;font-weight:normal;color:#111;transform-origin:0 0;transform:scaleX(0.9683);-webkit-text-stroke:0.36px #111;">15.4</div><div style="position:absolute;left:683.95px;top:2483.24px;font-size:16.63px;line-height:1;white-space:nowrap;font-weight:bold;color:#222;transform-origin:0 0;transform:scaleX(0.9412);-webkit-text-stroke:0.48px #222;">한방물리요법</div><div style="position:absolute;left:677.53px;top:2502.60px;font-size:17.32px;line-height:1;white-space:nowrap;font-weight:bold;color:#222;transform-origin:0 0;transform:scaleX(0.8919);-webkit-text-stroke:0.46px #222;">(추나요법제외)</div><div style="position:absolute;left:827.44px;top:2362.02px;font-size:19.58px;line-height:1;white-space:nowrap;font-weight:normal;color:#111;transform-origin:0 0;transform:scaleX(1.0253);-webkit-text-stroke:0.36px #111;">11.3</div><div style="position:absolute;left:836.94px;top:2484.00px;font-size:15.85px;line-height:1;white-space:nowrap;font-weight:bold;color:#222;transform-origin:0 0;transform:scaleX(1.0004);-webkit-text-stroke:0.45px #222;">뜸</div><div style="position:absolute;left:949.50px;top:2366.12px;font-size:19.58px;line-height:1;white-space:nowrap;font-weight:normal;color:#111;transform-origin:0 0;transform:scaleX(0.9630);-webkit-text-stroke:0.36px #111;">9.0</div><div style="position:absolute;left:950.27px;top:2484.00px;font-size:15.85px;line-height:1;white-space:nowrap;font-weight:bold;color:#222;transform-origin:0 0;transform:scaleX(0.9147);-webkit-text-stroke:0.45px #222;">부항</div><div style="position:absolute;left:606.46px;top:2649.71px;font-size:34.14px;line-height:1;white-space:nowrap;font-weight:bold;color:#131a38;transform-origin:0 0;transform:scaleX(0.8585);-webkit-text-stroke:0.72px #131a38;">[성별]</div><div style="position:absolute;left:535.47px;top:2762.54px;font-size:30.17px;line-height:1;white-space:nowrap;font-weight:normal;color:#fff;transform-origin:0 0;transform:scaleX(0.9384);-webkit-text-stroke:0.40px #fff;">83.7</div><div style="position:absolute;left:527.67px;top:2805.54px;font-size:30.17px;line-height:1;white-space:nowrap;font-weight:normal;color:#fff;transform-origin:0 0;transform:scaleX(0.9384);-webkit-text-stroke:0.40px #fff;">84.7</div><div style="position:absolute;left:482.23px;top:2878.42px;font-size:23.18px;line-height:1;white-space:nowrap;font-weight:normal;color:#fff;transform-origin:0 0;transform:scaleX(0.9774);-webkit-text-stroke:0.40px #fff;">37.0</div><div style="position:absolute;left:464.83px;top:2911.42px;font-size:23.18px;line-height:1;white-space:nowrap;font-weight:normal;color:#fff;transform-origin:0 0;transform:scaleX(0.9774);-webkit-text-stroke:0.40px #fff;">34.9</div><div style="position:absolute;left:427.87px;top:2973.72px;font-size:23.18px;line-height:1;white-space:nowrap;font-weight:normal;color:#fff;transform-origin:0 0;transform:scaleX(0.9429);-webkit-text-stroke:0.40px #fff;">18.0</div><div style="position:absolute;left:415.27px;top:3006.72px;font-size:23.18px;line-height:1;white-space:nowrap;font-weight:normal;color:#fff;transform-origin:0 0;transform:scaleX(0.9429);-webkit-text-stroke:0.40px #fff;">15.9</div><div style="position:absolute;left:395.97px;top:3070.02px;font-size:23.18px;line-height:1;white-space:nowrap;font-weight:normal;color:#fff;transform-origin:0 0;transform:scaleX(0.9429);-webkit-text-stroke:0.40px #fff;">12.4</div><div style="position:absolute;left:381.57px;top:3103.02px;font-size:23.18px;line-height:1;white-space:nowrap;font-weight:normal;color:#fff;transform-origin:0 0;transform:scaleX(0.9429);-webkit-text-stroke:0.40px #fff;">10.3</div><div style="position:absolute;left:983.30px;top:2783.42px;font-size:23.18px;line-height:1;white-space:nowrap;font-weight:normal;color:#fff;transform-origin:0 0;transform:scaleX(0.9557);-webkit-text-stroke:0.40px #fff;">41.7</div><div style="position:absolute;left:976.23px;top:2816.42px;font-size:23.18px;line-height:1;white-space:nowrap;font-weight:normal;color:#fff;transform-origin:0 0;transform:scaleX(0.9774);-webkit-text-stroke:0.40px #fff;">38.1</div><div style="position:absolute;left:936.03px;top:2878.42px;font-size:23.18px;line-height:1;white-space:nowrap;font-weight:normal;color:#fff;transform-origin:0 0;transform:scaleX(0.9774);-webkit-text-stroke:0.40px #fff;">31.2</div><div style="position:absolute;left:944.13px;top:2911.42px;font-size:23.18px;line-height:1;white-space:nowrap;font-weight:normal;color:#fff;transform-origin:0 0;transform:scaleX(0.9774);-webkit-text-stroke:0.40px #fff;">32.9</div><div style="position:absolute;left:896.27px;top:2973.62px;font-size:23.18px;line-height:1;white-space:nowrap;font-weight:normal;color:#fff;transform-origin:0 0;transform:scaleX(0.9429);-webkit-text-stroke:0.40px #fff;">15.8</div><div style="position:absolute;left:890.97px;top:3006.62px;font-size:23.18px;line-height:1;white-space:nowrap;font-weight:normal;color:#fff;transform-origin:0 0;transform:scaleX(0.9429);-webkit-text-stroke:0.40px #fff;">15.1</div><div style="position:absolute;left:871.97px;top:3069.22px;font-size:23.18px;line-height:1;white-space:nowrap;font-weight:normal;color:#fff;transform-origin:0 0;transform:scaleX(0.9429);-webkit-text-stroke:0.40px #fff;">10.8</div><div style="position:absolute;left:864.22px;top:3102.22px;font-size:23.18px;line-height:1;white-space:nowrap;font-weight:normal;color:#fff;transform-origin:0 0;transform:scaleX(0.9956);-webkit-text-stroke:0.40px #fff;">7.3</div><div style="position:absolute;left:244.09px;top:2810.09px;font-size:24.55px;line-height:1;white-space:nowrap;font-weight:bold;color:#333;transform-origin:0 0;transform:scaleX(0.9937);-webkit-text-stroke:0.55px #333;">탕약</div><div style="position:absolute;left:225.13px;top:2884.54px;font-size:18.90px;line-height:1;white-space:nowrap;font-weight:normal;color:#333;transform-origin:0 0;transform:scaleX(0.9063);-webkit-text-stroke:0.29px #333;">한약제제</div><div style="position:absolute;left:211.60px;top:2906.50px;font-size:19.37px;line-height:1;white-space:nowrap;font-weight:normal;color:#333;transform-origin:0 0;transform:scaleX(0.8867);-webkit-text-stroke:0.27px #333;">(탕약제외)</div><div style="position:absolute;left:276.82px;top:2978.53px;font-size:19.77px;line-height:1;white-space:nowrap;font-weight:normal;color:#333;transform-origin:0 0;transform:scaleX(0.8962);-webkit-text-stroke:0.29px #333;">침</div><div style="position:absolute;left:212.18px;top:3001.14px;font-size:20.04px;line-height:1;white-space:nowrap;font-weight:normal;color:#333;transform-origin:0 0;transform:scaleX(0.8572);-webkit-text-stroke:0.29px #333;">(약침제외)</div><div style="position:absolute;left:276.54px;top:3086.83px;font-size:19.11px;line-height:1;white-space:nowrap;font-weight:normal;color:#333;transform-origin:0 0;transform:scaleX(0.8851);-webkit-text-stroke:0.29px #333;">뜸</div><div style="position:absolute;left:709.60px;top:2799.44px;font-size:19.81px;line-height:1;white-space:nowrap;font-weight:normal;color:#333;transform-origin:0 0;transform:scaleX(0.8352);-webkit-text-stroke:0.29px #333;">추나요법</div><div style="position:absolute;left:740.80px;top:2894.15px;font-size:20.47px;line-height:1;white-space:nowrap;font-weight:normal;color:#333;transform-origin:0 0;transform:scaleX(0.8744);-webkit-text-stroke:0.29px #333;">약침</div><div style="position:absolute;left:676.92px;top:2992.50px;font-size:16.98px;line-height:1;white-space:nowrap;font-weight:normal;color:#333;transform-origin:0 0;transform:scaleX(0.9688);-webkit-text-stroke:0.27px #333;">한방물리요법</div><div style="position:absolute;left:662.61px;top:3012.58px;font-size:17.52px;line-height:1;white-space:nowrap;font-weight:normal;color:#333;transform-origin:0 0;transform:scaleX(0.9641);-webkit-text-stroke:0.28px #333;">(추나요법제외)</div><div style="position:absolute;left:740.55px;top:3086.78px;font-size:20.37px;line-height:1;white-space:nowrap;font-weight:normal;color:#333;transform-origin:0 0;transform:scaleX(0.8156);-webkit-text-stroke:0.28px #333;">부항</div>
</body></html>
